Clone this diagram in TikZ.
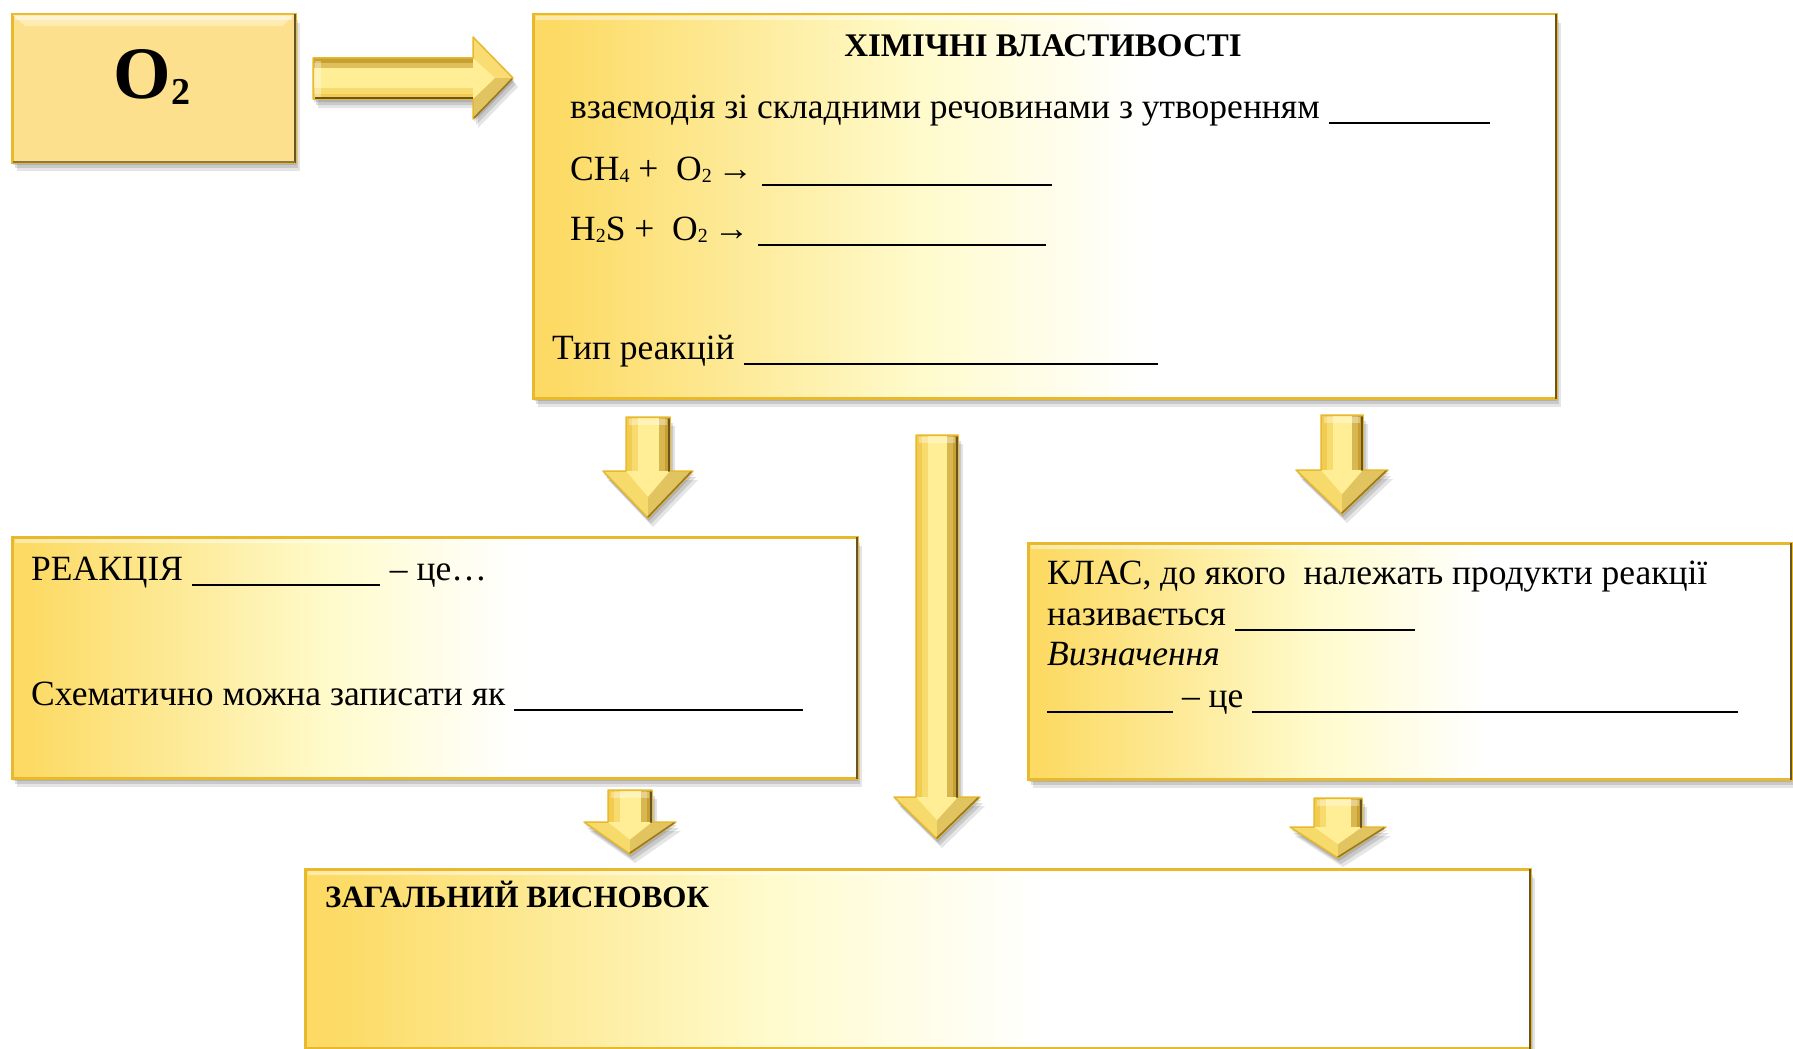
\documentclass[tikz,border=0pt]{standalone}
\usepackage{fontspec}
\setmainfont{Liberation Serif}
\usetikzlibrary{shadows,calc}
\definecolor{goldA}{RGB}{252,218,100}
\definecolor{creamA}{RGB}{255,251,205}
\definecolor{goldB}{RGB}{232,184,45}
\definecolor{goldDark}{RGB}{105,85,35}
\definecolor{otwo}{RGB}{253,224,142}
\definecolor{otwoL}{RGB}{254,236,178}
\definecolor{arrL}{RGB}{242,204,80}
\definecolor{arrM}{RGB}{255,238,150}
\definecolor{arrR}{RGB}{200,160,50}
\pgfdeclarehorizontalshading{fadeA}{100bp}{color(0bp)=(goldA); color(26bp)=(goldA); color(44bp)=(creamA); color(55bp)=(white); color(100bp)=(white)}
\newcommand\blank[1]{\rule[-6pt]{#1pt}{1.6pt}}
\newcommand\sbs[1]{\raisebox{-2pt}{\fontsize{20}{20}\selectfont #1}}
% down block arrow: cx, ytop, ybase, ytip, half shaft, half head
\newcommand\dnarr[6]{%
  \fill[arrM, softshadow] (#1-#5,#2) -- (#1+#5,#2) -- (#1+#5,#3) -- (#1+#6,#3) -- (#1,#4) -- (#1-#6,#3) -- (#1-#5,#3) -- cycle;
  \begin{scope}
    \clip (#1-#5,#2) -- (#1+#5,#2) -- (#1+#5,#3) -- (#1+#6,#3) -- (#1,#4) -- (#1-#6,#3) -- (#1-#5,#3) -- cycle;
    \fill[arrL] (#1-#5,#2) rectangle (#1-#5+6,#3);
    \fill[arrL!55!arrM] (#1-#5+6,#2) rectangle (#1-#5+12,#3);
    \fill[arrR!70!arrM] (#1+#5-11,#2) rectangle (#1+#5-5,#3);
    \fill[arrR] (#1+#5-5,#2) rectangle (#1+#5,#3);
    \fill[arrL!60!arrM] (#1-#6,#3) -- (#1,#3) -- (#1,#4) -- cycle;
    \fill[arrR!55!arrM] (#1,#3) -- (#1+#6,#3) -- (#1,#4) -- cycle;
    \fill[arrM] (#1-#5,#3) -- (#1+#5,#3) -- (#1,#3+0.55*#4-0.55*#3) -- cycle;
    \fill[white, opacity=.35] (#1-#5+3,#2+2) rectangle (#1+#5-3,#2+8);
  \end{scope}
  \draw[goldB, line width=1.5pt, line join=round] (#1-#5,#2) -- (#1+#5,#2) -- (#1+#5,#3) -- (#1+#6,#3) -- (#1,#4) -- (#1-#6,#3) -- (#1-#5,#3) -- cycle;
  \draw[goldDark, line width=2pt, line cap=round] (#1+#5-1,#2+2) -- (#1+#5-1,#3);
  \draw[arrR!75!black, line width=1.6pt, line cap=round] (#1+#6-2,#3+1) -- (#1,#4-1);}
\tikzset{
  x=1pt, y=-1pt,
  softshadow/.style={
    drop shadow={shadow xshift=1pt, shadow yshift=-3pt, opacity=.12, fill=black},
    drop shadow={shadow xshift=3pt, shadow yshift=-6pt, opacity=.12, fill=black},
    drop shadow={shadow xshift=5pt, shadow yshift=-9pt, opacity=.10, fill=black}},
  boxst/.style={draw=goldB, line width=2.5pt, shade, shading=fadeA, inner sep=0pt, anchor=north west, softshadow},
  txt/.style={anchor=base west, inner sep=0pt, font=\fontsize{35.5}{40}\selectfont},
}
\begin{document}
\begin{tikzpicture}
\useasboundingbox[fill=white] (0,0) rectangle (1793,1049);
% boxes
\node[boxst, shade=false, fill=otwo, minimum width=283pt, minimum height=148pt] (o2box) at (11,13) {};
\node[boxst, minimum width=1023pt, minimum height=384pt] (chem) at (532,13) {};
\node[boxst, minimum width=845pt, minimum height=241pt] (reac) at (11,536) {};
\node[boxst, minimum width=763pt, minimum height=236pt] (klas) at (1027,542) {};
\node[boxst, minimum width=1225pt, minimum height=179pt] (concl) at (304,868) {};
% bevel edges
\fill[otwoL] ([xshift=2pt,yshift=-2pt]o2box.north west) -- ([xshift=-3pt,yshift=-2pt]o2box.north east) -- ([xshift=-14pt,yshift=-13pt]o2box.north east) -- ([xshift=14pt,yshift=-13pt]o2box.north west) -- cycle;
\foreach \b in {chem,reac,klas,concl,o2box}{
  \draw[goldDark, line width=2.5pt] ([xshift=-1.5pt,yshift=-1pt]\b.north east) -- ([xshift=-1.5pt,yshift=1pt]\b.south east);
  \draw[white, opacity=.45, line width=4pt] ([xshift=4pt,yshift=-5pt]\b.north west) -- ([xshift=-5pt,yshift=-5pt]\b.north east);
}
\draw[goldDark!80, line width=2pt] ([xshift=2pt,yshift=2pt]o2box.south west) -- ([xshift=-2pt,yshift=2pt]o2box.south east);
% O2
\node[anchor=base, inner sep=0pt, font=\bfseries] (o2) at (152,98) {{\fontsize{74}{74}\selectfont O}\raisebox{-6pt}{\fontsize{38}{38}\selectfont 2}};
% right block arrow
\fill[arrM, softshadow] (313,58) -- (473,58) -- (473,37) -- (513,78) -- (473,119) -- (473,99) -- (313,99) -- cycle;
\begin{scope}
  \clip (313,58) -- (473,58) -- (473,37) -- (513,78) -- (473,119) -- (473,99) -- (313,99) -- cycle;
  \fill[arrR] (313,58) rectangle (473,63);
  \fill[arrR!60!arrM] (313,63) rectangle (473,68);
  \fill[arrL!55!arrM] (313,88) rectangle (473,94);
  \fill[arrL] (313,94) rectangle (473,99);
  \fill[arrL!50!arrM] (473,37) -- (513,78) -- (473,78) -- cycle;
  \fill[arrR!55!arrM] (473,78) -- (513,78) -- (473,119) -- cycle;
  \fill[arrM] (473,58) -- (495,78) -- (473,99) -- cycle;
  \fill[white, opacity=.35] (315,61) rectangle (321,97);
\end{scope}
\draw[goldB, line width=1.5pt, line join=round] (313,58) -- (473,58) -- (473,37) -- (513,78) -- (473,119) -- (473,99) -- (313,99) -- cycle;
\draw[goldDark, line width=2pt] (315,98) -- (473,98);
\draw[arrR!75!black, line width=1.6pt] (474,118) -- (512,79);
% down block arrows
\dnarr{648}{417}{471}{518}{22}{45}
\dnarr{937}{435}{797}{839}{21}{43}
\dnarr{1342}{415}{470}{514}{21}{46}
\dnarr{630}{790}{822}{854}{22}{46}
\dnarr{1338}{798}{827}{858}{24}{48}
% main box text
\node[anchor=base, inner sep=0pt, font=\fontsize{33}{38}\selectfont\bfseries] (title) at (1043,57) {ХІМІЧНІ ВЛАСТИВОСТІ};
\node[txt] (t1) at (570,118) {взаємодія зі складними речовинами з утворенням \blank{161}};
\node[txt] (t2) at (570,180) {CH\sbs{4} + \ O\sbs{2}\,→ \blank{290}};
\node[txt] (t3) at (570,240) {H\sbs{2}S + \ O\sbs{2}\,→ \blank{288}};
\node[txt] (t4) at (552,359) {Тип реакцій \blank{414}};
% left box
\node[txt] (r1) at (31,580) {РЕАКЦІЯ \blank{188}\hspace{10pt}– це…};
\node[txt] (r2) at (31,705) {Схематично можна записати як \blank{289}};
% right box
\node[txt] (k1) at (1047,584) {КЛАС, до якого \ належать продукти реакції};
\node[txt] (k2) at (1047,625) {називається \blank{180}};
\node[txt, font=\fontsize{35.5}{40}\selectfont\itshape] (k3) at (1047,665) {Визначення};
\node[txt] (k4) at (1047,707) {\blank{126} – це \blank{486}};
% bottom
\node[txt, font=\fontsize{31}{37}\selectfont\bfseries] (c1) at (325,907) {ЗАГАЛЬНИЙ ВИСНОВОК};
\end{tikzpicture}
\end{document}
